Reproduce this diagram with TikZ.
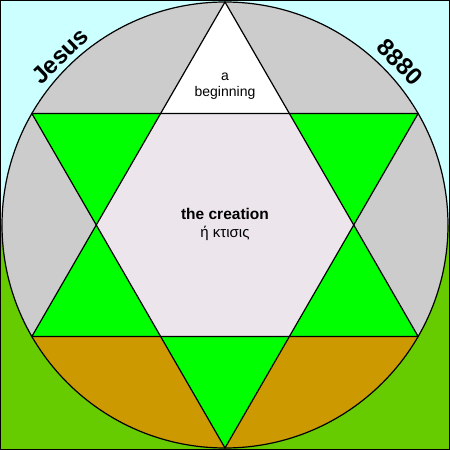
\documentclass[tikz,border=0pt]{standalone}
\usepackage{fontspec}
\setmainfont{Liberation Sans}
\usetikzlibrary{calc}
\definecolor{sky}{RGB}{204,255,255}
\definecolor{grass}{RGB}{102,204,0}
\definecolor{ring}{RGB}{204,204,204}
\definecolor{earth}{RGB}{204,153,0}
\definecolor{tip}{RGB}{0,255,0}
\definecolor{core}{RGB}{236,230,236}
\begin{document}
\begin{tikzpicture}[x=1pt,y=1pt]
      \tikzset{edge/.style={draw=black, line width=1.2pt, line join=miter},
               word/.style={font=\fontsize{24}{24}\selectfont\bfseries, inner sep=0pt}}
%% Background
      \useasboundingbox (0,0) rectangle (450,450);
      \fill[sky] (0,225) rectangle (450,450);
      \fill[grass] (0,0) rectangle (450,225);
%% Points of the star
      \coordinate (c) at (225,225);
      \coordinate (t) at ($(c)+(90:223)$);
      \coordinate (ul) at ($(c)+(150:223)$);
      \coordinate (ll) at ($(c)+(210:223)$);
      \coordinate (b) at ($(c)+(270:223)$);
      \coordinate (lr) at ($(c)+(330:223)$);
      \coordinate (ur) at ($(c)+(30:223)$);
%inner corners
      \foreach \a in {0,60,...,300}
          \coordinate (h\a) at ($(c)+(\a:128.75)$);
%% Regions
      \fill[ring] (c) circle[radius=223];
      \fill[earth] (ll) arc[start angle=210, end angle=330, radius=223] -- cycle;
      \fill[tip] (t) -- (ll) -- (lr) -- cycle;
      \fill[tip] (b) -- (ul) -- (ur) -- cycle;
      \fill[core] (h0) -- (h60) -- (h120) -- (h180) -- (h240) -- (h300) -- cycle;
      \fill[white] (t) -- (h120) -- (h60) -- cycle;
%Edges
      \draw[edge] (t) -- (ll) -- (lr) -- cycle;
      \draw[edge] (b) -- (ul) -- (ur) -- cycle;
      \draw[edge] (c) circle[radius=223];
      \draw[line width=1pt] (0.5,0.5) rectangle (449.5,449.5);
%% Labels
      \node[word, rotate=44] (jesus) at (60,394) {Jesus};
      \node[word, rotate=-46] (number) at (400,388) {8880};
      \node[align=center, font=\fontsize{14}{16.5}\selectfont] (start) at (225,364) {a\\beginning};
      \node[font=\fontsize{15.5}{16}\selectfont\bfseries] (creation) at (225,236) {the creation};
      \node[font=\fontsize{15}{16}\selectfont] (ktisis) at (225,217) {ή κτισις};
\end{tikzpicture}
\end{document}
